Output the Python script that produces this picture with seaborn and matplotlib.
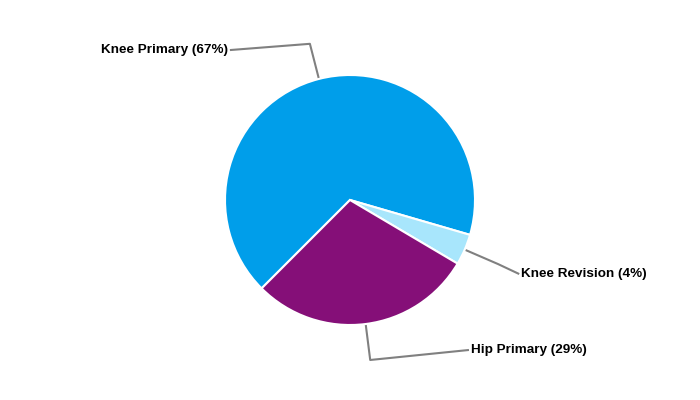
import numpy as np
import matplotlib
matplotlib.use("Agg")
import matplotlib.pyplot as plt
import seaborn as sns

categories = ["Knee Primary", "Knee Revision", "Hip Primary"]
shares = [67, 4, 29]
colors = ["#009EEA", "#A8E6FC", "#850F78"]

# where the label text sits, relative to the leader elbow (radius units)
label_offset = [(-0.64, -0.05), (0.17, -0.08), (0.79, 0.08)]
label_align = ["right", "left", "left"]

sns.set_theme(style="white")
plt.rcParams["font.family"] = ["Liberation Sans", "DejaVu Sans"]

fig = plt.figure(figsize=(7, 4), dpi=100)
ax = fig.add_axes([0, 0, 1, 1])

start = 225
wedges, _ = ax.pie(shares, colors=colors, startangle=start, counterclock=False,
                   radius=1, center=(0, 0),
                   wedgeprops=dict(edgecolor="white", linewidth=1.5))

total = sum(shares)
for w, name, val, off, ha in zip(wedges, categories, shares, label_offset, label_align):
    mid = np.deg2rad((w.theta1 + w.theta2) / 2)
    p0 = np.array([np.cos(mid), np.sin(mid)]) * 1.0
    p1 = np.array([np.cos(mid), np.sin(mid)]) * 1.29
    p2 = p1 + np.array(off)
    ax.plot([p0[0], p1[0], p2[0]], [p0[1], p1[1], p2[1]], color="#808080", lw=1.5,
            solid_capstyle="butt", zorder=0)
    pad = -0.015 if ha == "right" else 0.015
    ax.text(p2[0] + pad, p2[1], f"{name} ({round(val / total * 100)}%)", ha=ha, va="center",
            fontsize=9.7, fontweight="bold", color="black")

ax.set_xlim(-2.8, 2.8)
ax.set_ylim(-1.6, 1.6)
ax.set_aspect("equal")
ax.axis("off")

fig.savefig("out.png", dpi=100, facecolor="white")
